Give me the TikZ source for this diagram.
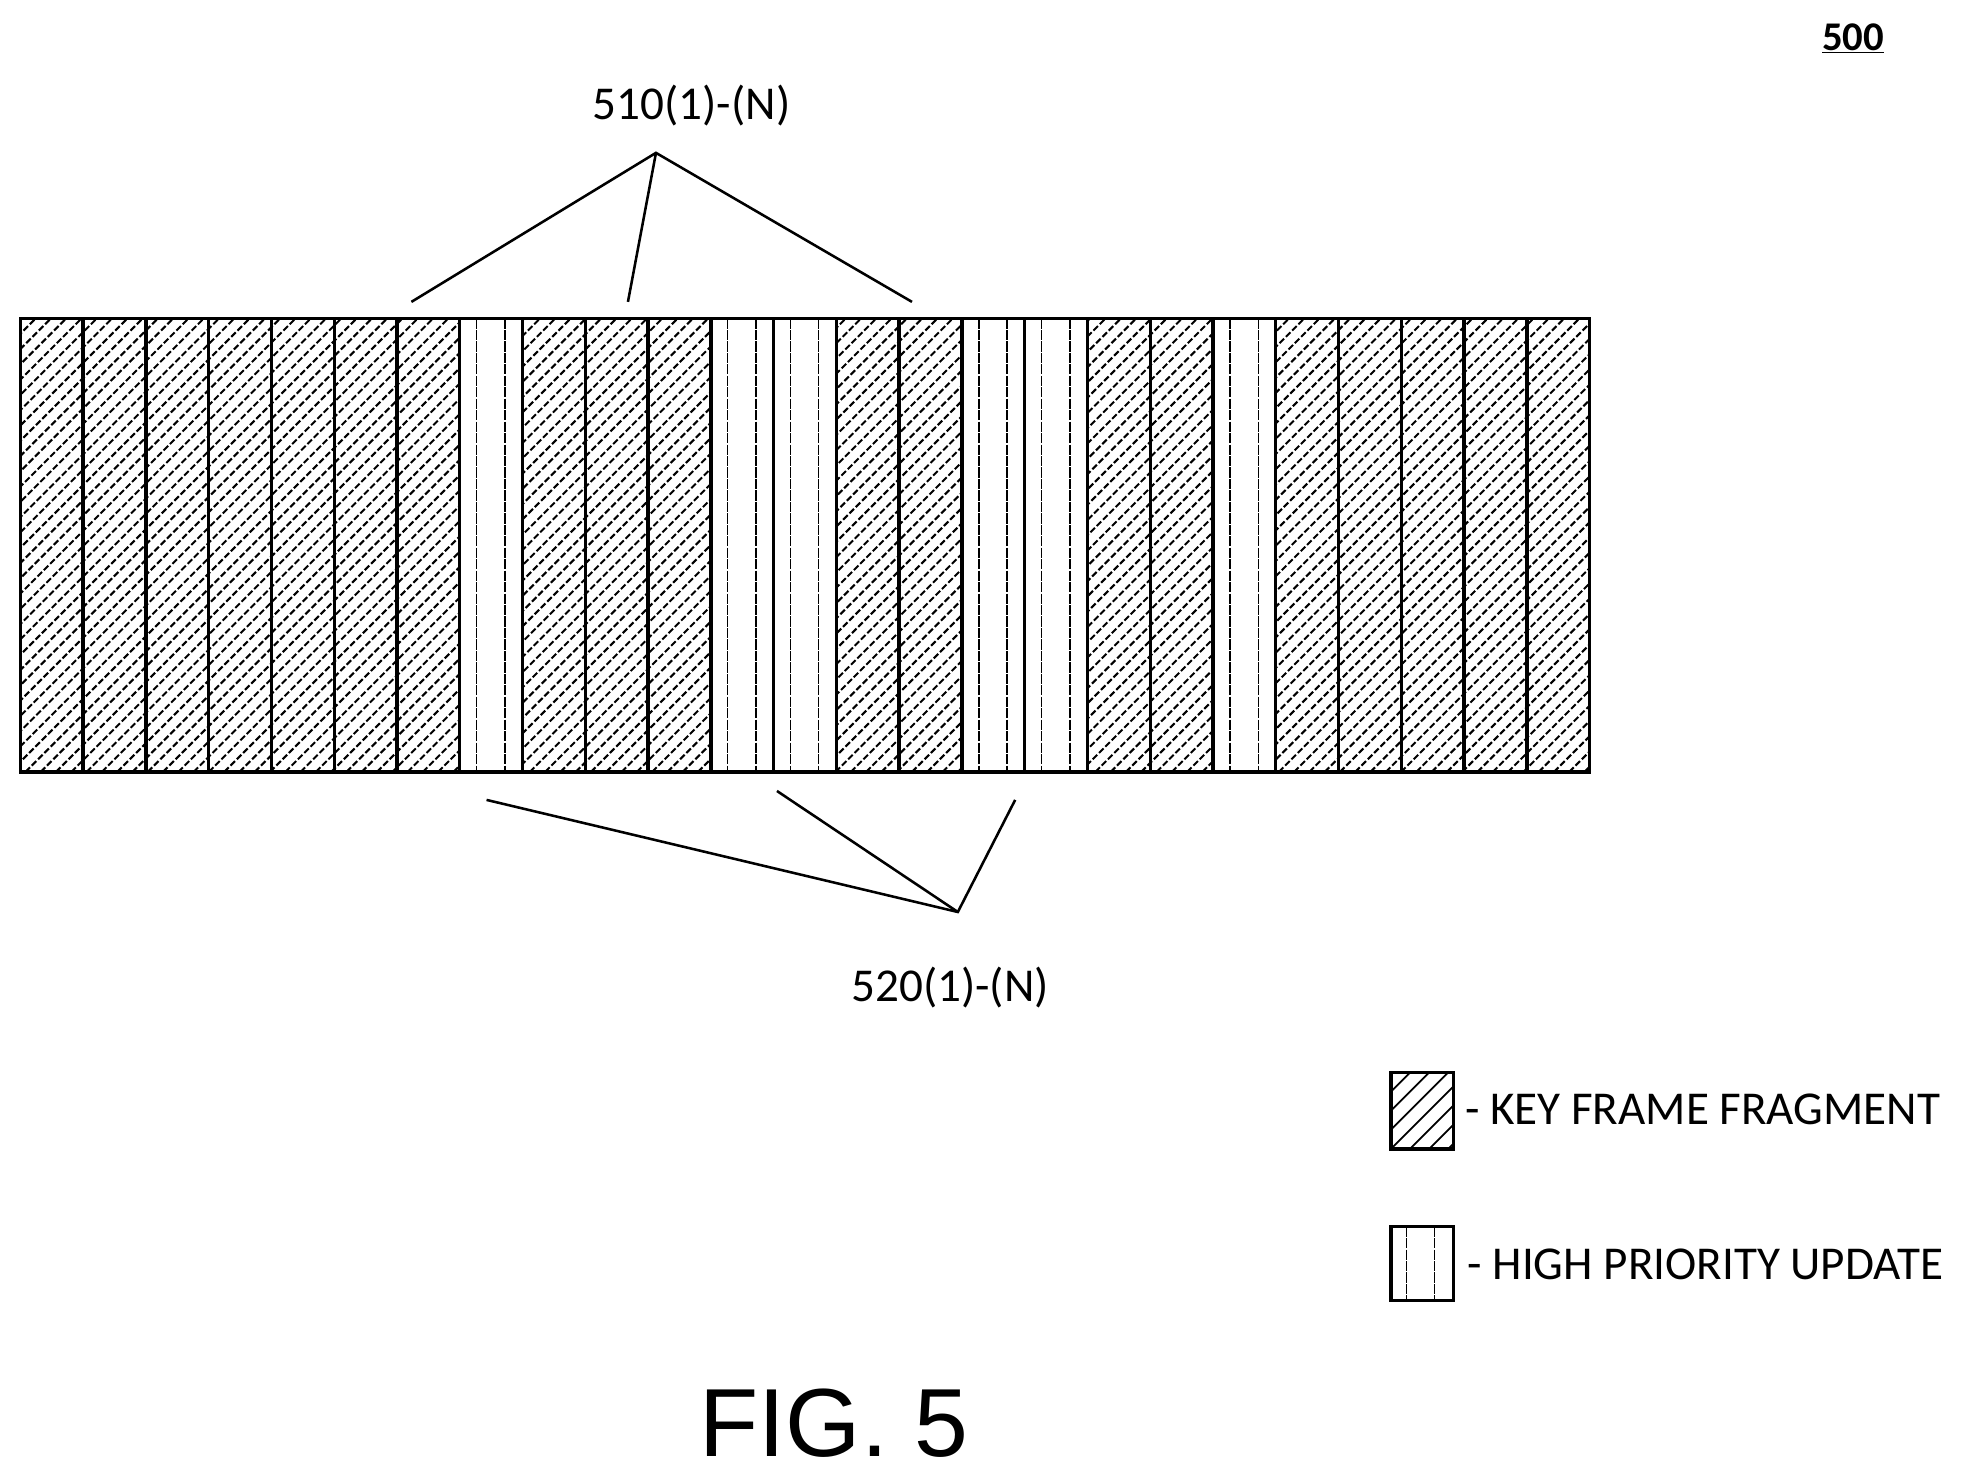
\documentclass[tikz,border=0pt]{standalone}
\usepackage{fontspec}
\setmainfont{Carlito}
\newfontfamily\figfont{Liberation Sans}
\begin{document}
\begin{tikzpicture}[x=1pt,y=-1pt,
  frame/.style={line width=2.6pt},
  leader/.style={line width=2pt},
  hatch/.style={line width=1.6pt, dash pattern=on 5pt off 2pt},
  inner/.style={line width=1pt, dash pattern=on 8pt off 1pt},
  lbl/.style={font=\fontsize{37}{44}\selectfont, inner sep=0pt}]
\useasboundingbox (0,0) rectangle (1560,1160);
\def\sw{49.28}
% hatching
\begin{scope}
\clip (16,250) rectangle (1248,606);
\foreach \k in {0,...,135}{
  \draw[hatch] ({16+\k*12-356},606) -- ({16+\k*12},250);
}
\foreach \i in {7,11,12,15,16,19}{
  \fill[white] ({16+\i*\sw},250) rectangle ({16+(\i+1)*\sw},606);
  \draw[inner] ({16+(\i+0.27)*\sw},250) -- ({16+(\i+0.27)*\sw},606);
  \draw[inner] ({16+(\i+0.72)*\sw},250) -- ({16+(\i+0.72)*\sw},606);
}
\end{scope}
\foreach \i in {1,...,24}{
  \draw[frame] ({16+\i*\sw},250) -- ({16+\i*\sw},606);
}
\draw[frame] (16,250) rectangle (1248,606);
% leaders
\node[lbl] (l510) at (543,83) {510(1)-(N)};
\coordinate (a1) at (515,120);
\coordinate (t1) at (323,237);
\coordinate (t2) at (493,237);
\coordinate (t3) at (716,237);
\draw[leader] (t1) -- (a1) -- (t3);
\draw[leader] (a1) -- (t2);
\node[lbl] (l520) at (746,775) {520(1)-(N)};
\coordinate (a2) at (752,716);
\coordinate (b1) at (382,628);
\coordinate (b2) at (610,621);
\coordinate (b3) at (797,628);
\draw[leader] (b1) -- (a2) -- (b3);
\draw[leader] (b2) -- (a2);
% 500
\node[font=\fontsize{32}{38}\selectfont\bfseries, inner sep=0pt] (n500) at (1455,30) {\underline{500}};
% legend
\begin{scope}
\clip (1092,842) rectangle (1141,902);
\foreach \k in {0,...,12}{
  \draw[line width=1.4pt] ({1092+\k*15-60},902) -- ({1092+\k*15},842);
}
\end{scope}
\draw[frame] (1092,842) rectangle (1141,902);
\node[lbl, anchor=west] (k1) at (1150,871) {- KEY FRAME FRAGMENT};
\draw[frame] (1092,963) rectangle (1141,1021);
\draw[inner] (1104,963) -- (1104,1021);
\draw[inner] (1126,963) -- (1126,1021);
\node[lbl, anchor=west] (k2) at (1152,993) {- HIGH PRIORITY UPDATE};
\node[font=\figfont\fontsize{76}{88}\selectfont, inner sep=0pt] (fig) at (655,1117) {FIG. 5};
\end{tikzpicture}
\end{document}
